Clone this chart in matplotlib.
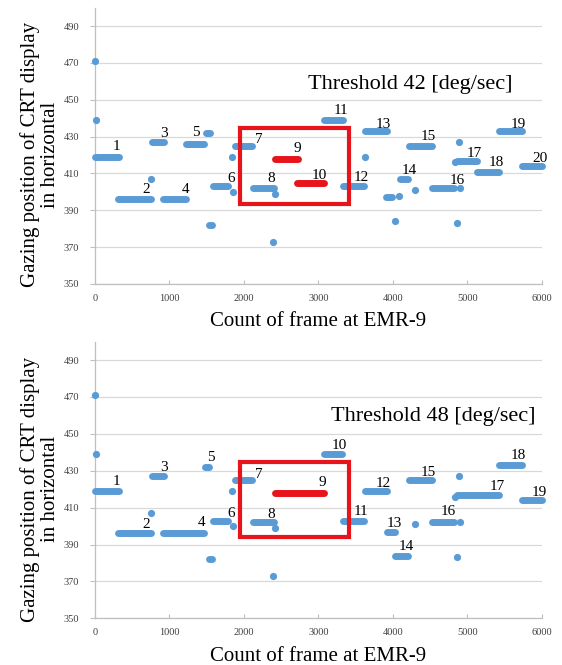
import matplotlib.pyplot as plt
from matplotlib.patches import Rectangle

plt.rcParams['font.family'] = ['Liberation Serif', 'DejaVu Serif']

BLUE = "#5b9bd5"
RED = "#e8141b"

# ---- Threshold 42 panel ----
# fixation segments: start frame, end frame, gaze position
top_seg_x0 = [0, 315, 760, 920, 1220, 1490, 1530, 1580, 1880, 2120, 3070, 3330, 3630, 3910, 4090, 4220, 4520, 4860, 5130, 5420, 5730]
top_seg_x1 = [320, 750, 930, 1220, 1460, 1540, 1570, 1790, 2110, 2400, 3330, 3610, 3920, 3990, 4210, 4530, 4820, 5130, 5420, 5730, 6000]
top_seg_y = [419, 396, 427, 396, 426, 432, 382, 403, 425, 402, 439, 403, 433, 397, 407, 425, 402, 417, 411, 433, 414]
top_red_x0 = [2420, 2710]
top_red_x1 = [2730, 3070]
top_red_y = [418, 405]
top_pt_x = [0, 10, 752, 1837, 1859, 2419, 2397, 3620, 4032, 4080, 4301, 4883, 4861, 4906, 4830]
top_pt_y = [471, 439, 407, 419, 400, 399, 373, 419, 384, 398, 401, 427, 383, 402, 416]
top_lab = [str(i) for i in range(1, 21)]
top_lab_x = [291, 681, 927, 1223, 1358, 1824, 2204, 2366, 2711, 3011, 3302, 3575, 3875, 4220, 4480, 4861, 5098, 5390, 5690, 5972]
top_lab_y = [424.5, 401, 431.8, 401, 432.3, 407.3, 428.5, 407, 423.6, 409, 444.4, 407.7, 436.8, 411.5, 430, 406, 421, 416, 436.8, 418]
top_box = (1949, 393.4, 3418, 434.8)

# ---- Threshold 48 panel ----
bot_seg_x0 = [0, 315, 760, 920, 1480, 1530, 1580, 1880, 2120, 3070, 3330, 3630, 3920, 4030, 4220, 4520, 4860, 5420, 5730]
bot_seg_x1 = [320, 750, 930, 1460, 1530, 1570, 1790, 2110, 2400, 3320, 3610, 3920, 4030, 4210, 4530, 4820, 5420, 5730, 6000]
bot_seg_y = [419, 396, 427, 396, 432, 382, 403, 425, 402, 439, 403, 419, 397, 384, 425, 402, 417, 433, 414]
bot_red_x0 = [2420]
bot_red_x1 = [3070]
bot_red_y = [418]
bot_pt_x = [0, 10, 752, 1837, 1859, 2419, 2397, 4301, 4883, 4861, 4906, 4830]
bot_pt_y = [471, 439, 407, 419, 400, 399, 373, 401, 427, 383, 402, 416]
bot_lab = [str(i) for i in range(1, 20)]
bot_lab_x = [291, 681, 927, 1434, 1555, 1824, 2204, 2366, 3047, 3280, 3571, 3867, 4019, 4180, 4480, 4740, 5399, 5690, 5972]
bot_lab_y = [424, 401, 431.6, 401.8, 437, 406.9, 427.7, 406.5, 423.5, 443.6, 407.8, 423.2, 401.5, 388.8, 428.9, 407.8, 421.7, 438, 418.3]
bot_box = (1949, 394.2, 3418, 434.5)

yticks = [350, 370, 390, 410, 430, 450, 470, 490]
xticks = [0, 1000, 2000, 3000, 4000, 5000, 6000]


def draw_panel(ax, seg_x0, seg_x1, seg_y, red_x0, red_x1, red_y, pt_x, pt_y,
               labs, lab_x, lab_y, box, title, title_x, title_y):
    for x0, x1, y in zip(seg_x0, seg_x1, seg_y):
        ax.plot([x0, x1], [y, y], color=BLUE, lw=5, solid_capstyle='round', clip_on=False, zorder=3)
    for x0, x1, y in zip(red_x0, red_x1, red_y):
        ax.plot([x0, x1], [y, y], color=RED, lw=5, solid_capstyle='round', clip_on=False, zorder=3)
    ax.plot(pt_x, pt_y, 'o', color=BLUE, ms=5.2, mec='none', clip_on=False, zorder=3)
    for t, x, y in zip(labs, lab_x, lab_y):
        ax.text(x, y, t, fontsize=11, ha='center', va='center', zorder=4)
    ax.add_patch(Rectangle((box[0], box[1]), box[2] - box[0], box[3] - box[1],
                           fill=False, edgecolor=RED, lw=3, zorder=5))
    ax.text(title_x, title_y, title, fontsize=16, ha='center', va='center')

    ax.set_xlim(0, 6000)
    ax.set_ylim(350, 500)
    ax.set_xticks(xticks)
    ax.set_yticks(yticks)
    ax.grid(axis='y', color='#d9d9d9', lw=0.9)
    ax.set_axisbelow(True)
    for s in ['top', 'right']:
        ax.spines[s].set_visible(False)
    for s in ['left', 'bottom']:
        ax.spines[s].set_color('#bfbfbf')
        ax.spines[s].set_linewidth(0.9)
    ax.tick_params(axis='y', direction='out', length=3.5, pad=8, labelsize=7.5,
                   colors='#bfbfbf', labelcolor='#404040')
    ax.tick_params(axis='x', direction='in', length=3, pad=7, labelsize=7.5,
                   colors='#bfbfbf', labelcolor='#404040')
    ax.set_ylabel("Gazing position of CRT display\nin horizontal", fontsize=15, linespacing=1.1)
    ax.yaxis.set_label_coords(-0.078, 0.467)
    ax.set_xlabel("Count of frame at EMR-9", fontsize=15)
    ax.xaxis.set_label_coords(0.5, -0.103)


fig = plt.figure(figsize=(5.62, 6.65), dpi=100)
ax1 = fig.add_axes([0.169, 0.573, 0.795, 0.4156])
ax2 = fig.add_axes([0.169, 0.0702, 0.795, 0.4161])

draw_panel(ax1, top_seg_x0, top_seg_x1, top_seg_y, top_red_x0, top_red_x1, top_red_y,
           top_pt_x, top_pt_y, top_lab, top_lab_x, top_lab_y, top_box,
           "Threshold 42 [deg/sec]", 4234, 458)
draw_panel(ax2, bot_seg_x0, bot_seg_x1, bot_seg_y, bot_red_x0, bot_red_x1, bot_red_y,
           bot_pt_x, bot_pt_y, bot_lab, bot_lab_x, bot_lab_y, bot_box,
           "Threshold 48 [deg/sec]", 4543, 459.6)

fig.savefig("out.png", dpi=100)
